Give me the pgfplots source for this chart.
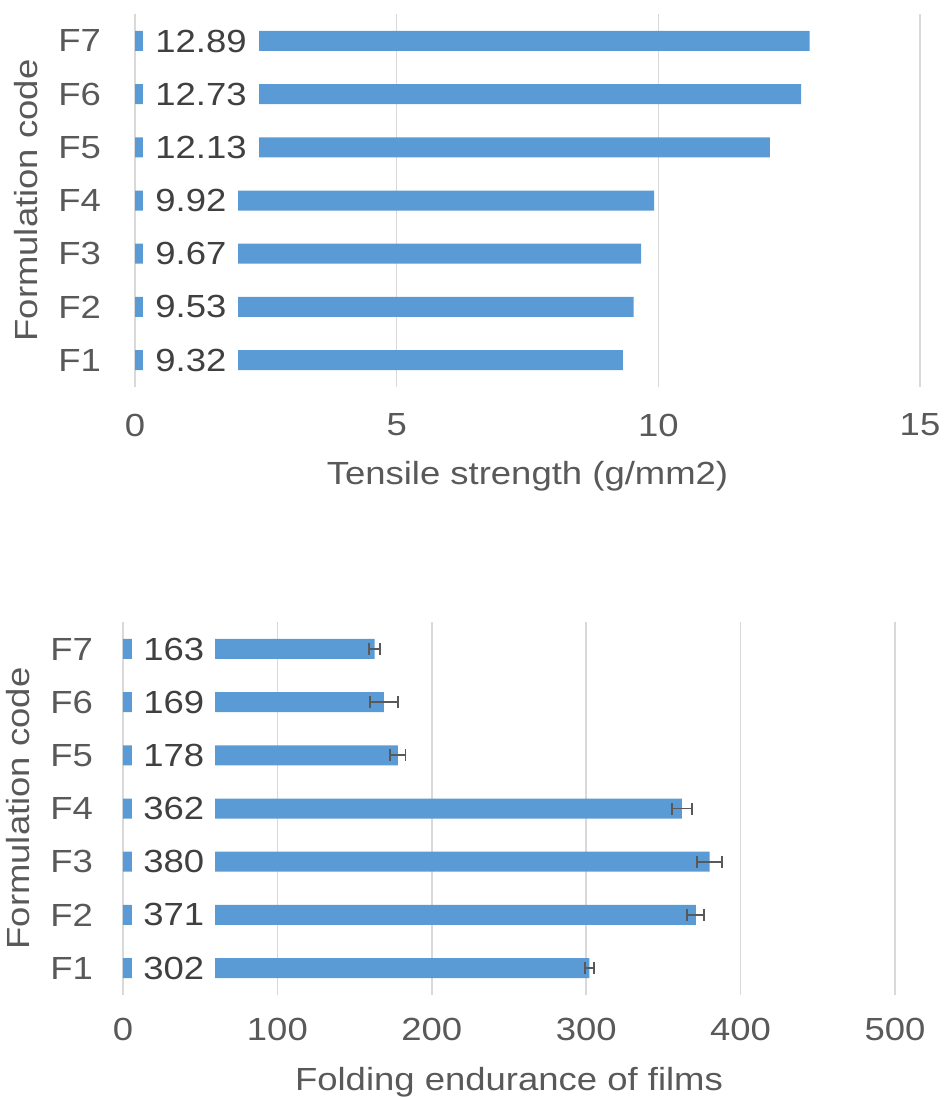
\documentclass[border=0pt]{standalone}
\usepackage{fontspec}
\setmainfont{Liberation Sans}[FakeStretch=1.14]
\usepackage{pgfplots}
\pgfplotsset{compat=1.18}

\definecolor{barblue}{HTML}{5B9BD5}
\definecolor{gridgray}{HTML}{D9D9D9}
\definecolor{ticktext}{HTML}{595959}
\definecolor{labeltext}{HTML}{404040}

\pgfplotsset{
  panel/.style={
    scale only axis,
    anchor=south west,
    font=\fontsize{16}{19}\selectfont,
    ymin=0.5, ymax=7.5,
    ytick={1,...,7},
    yticklabels={F1,F2,F3,F4,F5,F6,F7},
    axis line style={draw=none},
    major tick length=0pt,
    xmajorgrids,
    major grid style={gridgray, line width=0.75pt},
    tick label style={ticktext},
    label style={ticktext},
    /pgf/number format/assume math mode=true,
    ylabel={Formulation code},
    clip=false,
  },
  vals/.style 2 args={
    draw=none, forget plot,
    nodes near coords,
    point meta=explicit symbolic,
    nodes near coords style={anchor=west, fill=white, text=labeltext,
      inner xsep=#2, inner ysep=2pt, xshift=#1},
  },
}

\begin{document}
\begin{tikzpicture}
\useasboundingbox (0,0) rectangle (472pt,-548.5pt);

% Tensile strength
\begin{axis}[panel,
  at={(67.5pt,-193.3pt)},
  width=392.5pt, height=186.1pt,
  xmin=0, xmax=15, xtick={0,5,10,15},
  xticklabel style={yshift=-10pt},
  xlabel={Tensile strength (g/mm2)},
  xlabel style={yshift=-5.5pt},
  yticklabel style={xshift=-13.5pt},
  ylabel style={yshift=3.5pt},
]
\addplot[xbar, bar width=10pt, fill=barblue, draw=none] coordinates {
  (9.32,1) (9.53,2) (9.67,3) (9.92,4) (12.13,5) (12.73,6) (12.89,7)
};
\addplot[vals={4pt}{6pt}] coordinates {
  (0,1) [9.32] (0,2) [9.53] (0,3) [9.67] (0,4) [9.92]
  (0,5) [12.13] (0,6) [12.73] (0,7) [12.89]
};
\end{axis}

% Folding endurance
\begin{axis}[panel,
  at={(61.5pt,-497.3pt)},
  width=386pt, height=186.1pt,
  xmin=0, xmax=500, xtick={0,100,...,500},
  xticklabel style={yshift=-8pt},
  xlabel={Folding endurance of films},
  xlabel style={yshift=-6.5pt},
  yticklabel style={xshift=-11.5pt},
  ylabel style={yshift=3.5pt},
]
\addplot[xbar, bar width=10pt, fill=barblue, draw=none,
  error bars/.cd, x dir=both, x explicit,
  error bar style={ticktext, line width=0.9pt},
  error mark options={ticktext, line width=0.9pt, mark size=3pt, rotate=90}]
  coordinates {
  (302,1) +- (3,0)
  (371,2) +- (5.5,0)
  (380,3) +- (8,0)
  (362,4) +- (6.5,0)
  (178,5) +- (5,0)
  (169,6) +- (9,0)
  (163,7) +- (3.5,0)
};
\addplot[vals={4.5pt}{5.5pt}] coordinates {
  (0,1) [302] (0,2) [371] (0,3) [380] (0,4) [362]
  (0,5) [178] (0,6) [169] (0,7) [163]
};
\end{axis}
\end{tikzpicture}
\end{document}
